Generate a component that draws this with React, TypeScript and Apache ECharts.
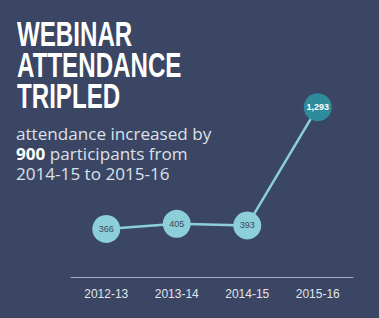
import React, { useEffect, useRef } from "react";
import * as echarts from "echarts";

const categories = ["2012-13", "2013-14", "2014-15", "2015-16"];
const attendance = [366, 405, 393, 1293];
const titleLines = ["WEBINAR", "ATTENDANCE", "TRIPLED"];
const subtitleLines = ["attendance increased by", "{b|900} participants from", "2014-15 to 2015-16"];

export default function App() {
  const ref = useRef<HTMLDivElement>(null);
  useEffect(() => {
    document.body.style.margin = "0";
    const chart = echarts.init(ref.current!, null, { renderer: "svg" });
    const bg = "#3a4664";
    const light = "#8dcfd8";
    const dark = "#2e8b9c";
    chart.setOption({
      animation: false,
      backgroundColor: bg,
      grid: { left: 71, width: 282, top: 80, height: 197 },
      xAxis: {
        type: "category",
        data: categories,
        boundaryGap: true,
        axisLine: { lineStyle: { color: "#a3abbd", width: 1 } },
        axisTick: { show: false },
        axisLabel: {
          color: "#e1e4eb",
          fontSize: 12,
          fontFamily: "Liberation Sans",
          margin: 11,
        },
      },
      yAxis: {
        type: "value",
        min: 0,
        max: 1500,
        show: false,
        splitLine: { show: false },
      },
      series: [
        {
          type: "line",
          data: attendance.map((v, i) => ({
            value: v,
            itemStyle: { color: i === attendance.length - 1 ? dark : light },
            label: {
              color: i === attendance.length - 1 ? "#ffffff" : "#3a4664",
              fontWeight: i === attendance.length - 1 ? "bold" : "normal",
            },
          })),
          symbol: "circle",
          symbolSize: 28,
          lineStyle: { color: light, width: 2.5 },
          itemStyle: { color: light, borderWidth: 0 },
          label: {
            show: true,
            position: "inside",
            fontSize: 9,
            fontFamily: "Liberation Sans",
            formatter: (p: any) => Number(p.value).toLocaleString("en-US"),
          },
        },
      ],
      graphic: [
        ...titleLines.map((t, i) => ({
          type: "text",
          x: 17,
          y: 19 + i * 31,
          scaleX: 0.69,
          style: {
            text: t,
            fill: "#ffffff",
            fontSize: 35,
            fontWeight: "bold",
            fontFamily: "Liberation Sans",
            lineHeight: 30,
            verticalAlign: "top",
          },
        })),
        ...subtitleLines.map((t, i) => ({
          type: "text",
          x: 16,
          y: 125 + i * 20,
          scaleX: 1.07,
          style: {
            text: t,
            fill: "#dde1e9",
            fontSize: 16,
            fontFamily: "Open Sans",
            lineHeight: 18,
            verticalAlign: "top",
            rich: {
              b: {
                fontWeight: "bold",
                fontSize: 16,
                fontFamily: "Open Sans",
                fill: "#ffffff",
                lineHeight: 18,
              },
            },
          },
        })),
      ],
    });
    return () => chart.dispose();
  }, []);
  return (
    <div
      ref={ref}
      style={{ position: "fixed", left: 0, top: 0, width: 379, height: 318 }}
    />
  );
}
